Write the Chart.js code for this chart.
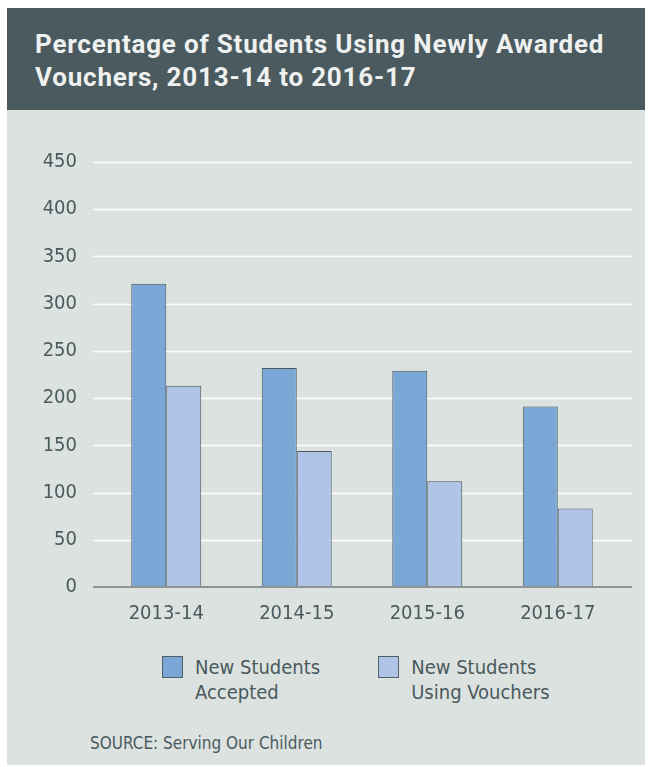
<!DOCTYPE html>
<html>
<head>
<meta charset="utf-8">
<script src="https://cdn.jsdelivr.net/npm/chart.js@4.4.1/dist/chart.umd.min.js"></script>
<style>
  body { margin: 0; background: #ffffff; width: 652px; height: 767px; overflow: hidden; }
  #card { position: absolute; left: 7px; top: 8px; width: 638px; height: 757px; background: #dce2df; }
  #head { position: absolute; left: 0; top: 0; width: 638px; height: 102px; background: #4a5a5e; }
  #title { position: absolute; left: 28px; top: 20px; margin: 0; color: #eef1f0;
           font: bold 26px Roboto, "Liberation Sans", sans-serif; line-height: 33px; letter-spacing: 0.8px; }
  #wrap { position: absolute; left: 0; top: 102px; width: 638px; height: 545px; }
  #legend { position: absolute; top: 648px; left: 155px; display: flex; }
  .item { display: flex; align-items: flex-start; }
  .box { width: 21px; height: 22px; border: 1px solid #4f5f66; box-sizing: border-box; margin-right: 12px; }
  .lbl { color: #4a5a5e; font: 20px "DejaVu Sans Condensed", sans-serif; line-height: 25px; margin-top: -1px; white-space: pre; }
  #source { position: absolute; left: 83px; top: 725px; color: #4a5a5e;
            font: 17px "DejaVu Sans Condensed", sans-serif; }
</style>
</head>
<body>
<div id="card">
  <div id="head"><h1 id="title">Percentage of Students Using Newly Awarded<br>Vouchers, 2013-14 to 2016-17</h1></div>
  <div id="wrap"><canvas id="votesChart" width="638" height="545"></canvas></div>
  <div id="legend"></div>
  <div id="source">SOURCE: Serving Our Children</div>
</div>
<script>
// données
const years = ['2013-14', '2014-15', '2015-16', '2016-17'];
const accepted = [321, 232, 229, 191];
const usingVouchers = [213, 144, 112, 83];
const seriesNames = ['New Students\nAccepted', 'New Students\nUsing Vouchers'];
const seriesColors = ['#7ba7d7', '#afc4e6'];
const yTicks = [0, 50, 100, 150, 200, 250, 300, 350, 400, 450];

const tickFont = { family: '"DejaVu Sans Condensed", sans-serif', size: 20 };

// lignes de grille plus larges que la zone des barres
const gridPlugin = {
    id: 'wideGrid',
    beforeDatasetsDraw(chart) {
        const { ctx, chartArea, scales } = chart;
        ctx.save();
        ctx.strokeStyle = '#ffffff';
        ctx.lineWidth = 1.5;
        yTicks.filter(v => v > 0).forEach(v => {
            const y = Math.round(scales.y.getPixelForValue(v)) + 0.5;
            ctx.beginPath();
            ctx.moveTo(chartArea.left - 8, y);
            ctx.lineTo(chartArea.right + 9, y);
            ctx.stroke();
        });
        ctx.restore();
    },
    afterDatasetsDraw(chart) {
        const { ctx, chartArea, scales } = chart;
        const y = scales.y.getPixelForValue(0);
        ctx.save();
        ctx.strokeStyle = '#8c9592';
        ctx.lineWidth = 2;
        ctx.beginPath();
        ctx.moveTo(chartArea.left - 8, y);
        ctx.lineTo(chartArea.right + 9, y);
        ctx.stroke();
        ctx.restore();
    }
};

const datasets = [accepted, usingVouchers].map((values, index) => ({
    label: seriesNames[index],
    data: values,
    backgroundColor: seriesColors[index],
    borderColor: '#48585f',
    borderWidth: 1,
    categoryPercentage: 0.536,
    barPercentage: 1.0
}));

new Chart(document.getElementById('votesChart').getContext('2d'), {
    type: 'bar',
    data: { labels: years, datasets: datasets },
    options: {
        responsive: false,
        animation: false,
        devicePixelRatio: 1,
        layout: { padding: { left: 0, right: 22, top: 52, bottom: 8 } },
        plugins: { legend: { display: false }, tooltip: { enabled: false } },
        scales: {
            x: {
                grid: { display: false, drawTicks: false },
                border: { display: false },
                afterFit: (scale) => { scale.height = 60; },
                ticks: { color: '#4a5a5e', font: tickFont, padding: 15 }
            },
            y: {
                min: 0, max: 450,
                afterBuildTicks: (scale) => { scale.ticks = yTicks.map(v => ({ value: v })); },
                afterFit: (scale) => { scale.width = 94; },
                grid: { display: false, drawTicks: false },
                border: { display: false },
                ticks: { color: '#4a5a5e', font: tickFont, padding: 24 }
            }
        }
    },
    plugins: [gridPlugin]
});

// légende HTML (libellés sur deux lignes)
const legend = document.getElementById('legend');
seriesNames.forEach((name, index) => {
    const item = document.createElement('div');
    item.className = 'item';
    item.style.marginRight = index === 0 ? '58px' : '0';
    item.innerHTML = `<div class="box" style="background:${seriesColors[index]}"></div><div class="lbl"></div>`;
    item.querySelector('.lbl').textContent = name;
    legend.appendChild(item);
});
</script>
</body>
</html>
